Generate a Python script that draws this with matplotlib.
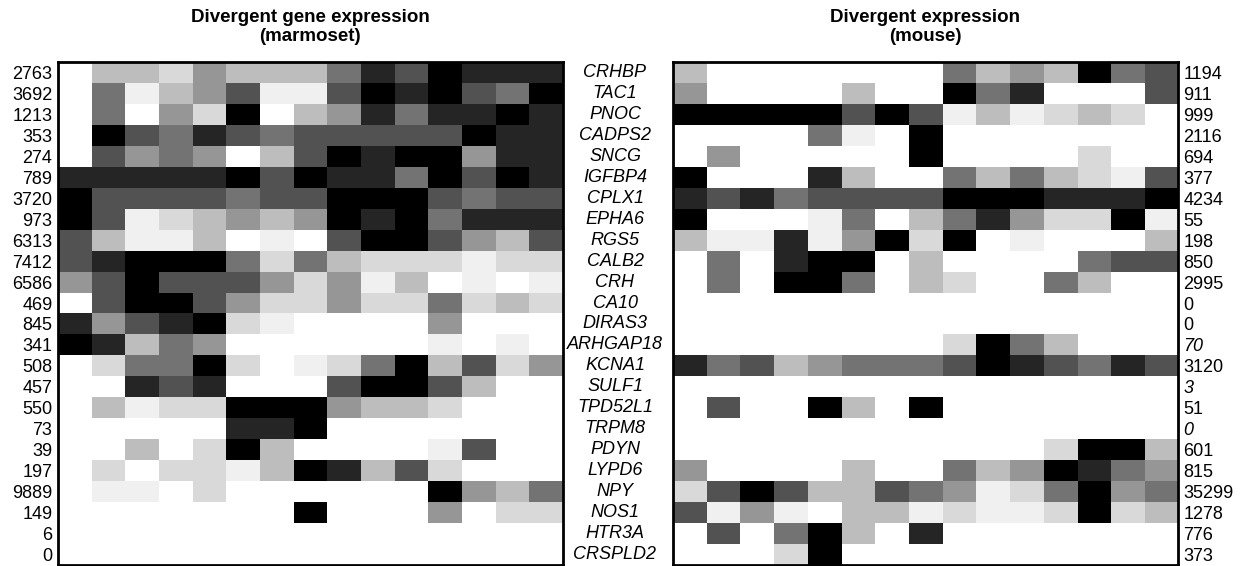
import matplotlib
matplotlib.use('Agg')
import matplotlib.pyplot as plt
import numpy as np
from matplotlib.colors import ListedColormap
from matplotlib import transforms

plt.rcParams['font.family'] = ['Liberation Sans', 'DejaVu Sans']

# genes, one per heatmap row
genes = ['CRHBP', 'TAC1', 'PNOC', 'CADPS2', 'SNCG', 'IGFBP4', 'CPLX1', 'EPHA6',
         'RGS5', 'CALB2', 'CRH', 'CA10', 'DIRAS3', 'ARHGAP18', 'KCNA1', 'SULF1',
         'TPD52L1', 'TRPM8', 'PDYN', 'LYPD6', 'NPY', 'NOS1', 'HTR3A', 'CRSPLD2']

# max expression per gene
marmoset_max = ['2763', '3692', '1213', '353', '274', '789', '3720', '973', '6313',
                '7412', '6586', '469', '845', '341', '508', '457', '550', '73', '39',
                '197', '9889', '149', '6', '0']
mouse_max = ['1194', '911', '999', '2116', '694', '377', '4234', '55', '198', '850',
             '2995', '0', '0', '70', '3120', '3', '51', '0', '601', '815', '35299',
             '1278', '776', '373']
mouse_italic = [13, 15, 17]

# binned expression level per cluster, 0 (none) .. 8 (max)
marmoset = [
    [0, 3, 3, 2, 4, 3, 3, 3, 5, 7, 6, 8, 7, 7, 7],
    [0, 5, 1, 3, 4, 6, 1, 1, 6, 8, 7, 8, 6, 5, 8],
    [0, 5, 0, 4, 2, 8, 0, 3, 4, 7, 5, 7, 7, 8, 7],
    [0, 8, 6, 5, 7, 6, 5, 6, 6, 6, 6, 6, 8, 7, 7],
    [0, 6, 4, 5, 4, 0, 3, 6, 8, 7, 8, 8, 4, 7, 7],
    [7, 7, 7, 7, 7, 8, 6, 8, 7, 7, 5, 8, 6, 8, 7],
    [8, 6, 6, 6, 6, 5, 6, 6, 8, 8, 8, 6, 5, 6, 6],
    [8, 6, 1, 2, 3, 4, 3, 4, 8, 7, 8, 5, 7, 7, 7],
    [6, 3, 1, 1, 3, 0, 1, 0, 6, 8, 8, 6, 4, 3, 6],
    [6, 7, 8, 8, 8, 5, 2, 5, 3, 2, 2, 2, 1, 2, 2],
    [4, 6, 8, 6, 6, 6, 4, 2, 4, 1, 3, 0, 1, 0, 1],
    [0, 6, 8, 8, 6, 4, 2, 2, 4, 2, 2, 5, 2, 3, 2],
    [7, 4, 6, 7, 8, 2, 1, 0, 0, 0, 0, 4, 0, 0, 0],
    [8, 7, 3, 5, 4, 0, 0, 0, 0, 0, 0, 1, 0, 1, 0],
    [0, 2, 5, 5, 8, 2, 0, 1, 2, 5, 8, 3, 6, 2, 4],
    [0, 0, 7, 6, 7, 0, 0, 0, 6, 8, 8, 6, 3, 0, 0],
    [0, 3, 1, 2, 2, 8, 8, 8, 4, 3, 3, 2, 0, 0, 0],
    [0, 0, 0, 0, 0, 7, 7, 8, 0, 0, 0, 0, 0, 0, 0],
    [0, 0, 3, 0, 2, 8, 3, 0, 0, 0, 0, 1, 6, 0, 0],
    [0, 2, 0, 2, 2, 1, 3, 8, 7, 3, 6, 2, 0, 0, 0],
    [0, 1, 1, 0, 2, 0, 0, 0, 0, 0, 0, 8, 4, 3, 5],
    [0, 0, 0, 0, 0, 0, 0, 8, 0, 0, 0, 4, 0, 2, 2],
    [0, 0, 0, 0, 0, 0, 0, 0, 0, 0, 0, 0, 0, 0, 0],
    [0, 0, 0, 0, 0, 0, 0, 0, 0, 0, 0, 0, 0, 0, 0],
]
mouse = [
    [3, 0, 0, 0, 0, 0, 0, 0, 5, 3, 4, 3, 8, 5, 6],
    [4, 0, 0, 0, 0, 3, 0, 0, 8, 5, 7, 0, 0, 0, 6],
    [8, 8, 8, 8, 8, 6, 8, 6, 1, 3, 1, 2, 3, 2, 0],
    [0, 0, 0, 0, 5, 1, 0, 8, 0, 0, 0, 0, 0, 0, 0],
    [0, 4, 0, 0, 0, 0, 0, 8, 0, 0, 0, 0, 2, 0, 0],
    [8, 0, 0, 0, 7, 3, 0, 0, 5, 3, 5, 3, 2, 1, 6],
    [7, 6, 7, 5, 6, 6, 6, 6, 8, 8, 8, 7, 7, 7, 8],
    [8, 0, 0, 0, 1, 5, 0, 3, 5, 7, 4, 2, 2, 8, 1],
    [3, 1, 1, 7, 1, 4, 8, 2, 8, 0, 1, 0, 0, 0, 3],
    [0, 5, 0, 7, 8, 8, 0, 3, 0, 0, 0, 0, 5, 6, 6],
    [0, 5, 0, 8, 8, 5, 0, 3, 2, 0, 0, 5, 3, 0, 0],
    [0, 0, 0, 0, 0, 0, 0, 0, 0, 0, 0, 0, 0, 0, 0],
    [0, 0, 0, 0, 0, 0, 0, 0, 0, 0, 0, 0, 0, 0, 0],
    [0, 0, 0, 0, 0, 0, 0, 0, 2, 8, 5, 3, 0, 0, 0],
    [7, 5, 6, 3, 4, 5, 5, 5, 6, 8, 7, 6, 5, 7, 6],
    [0, 0, 0, 0, 0, 0, 0, 0, 0, 0, 0, 0, 0, 0, 0],
    [0, 6, 0, 0, 8, 3, 0, 8, 0, 0, 0, 0, 0, 0, 0],
    [0, 0, 0, 0, 0, 0, 0, 0, 0, 0, 0, 0, 0, 0, 0],
    [0, 0, 0, 0, 0, 0, 0, 0, 0, 0, 0, 2, 8, 8, 3],
    [4, 0, 0, 0, 0, 3, 0, 0, 5, 3, 4, 8, 7, 5, 4],
    [2, 6, 8, 6, 3, 3, 6, 5, 4, 1, 2, 5, 8, 4, 5],
    [6, 1, 4, 1, 0, 3, 3, 1, 2, 1, 1, 2, 8, 2, 3],
    [0, 6, 0, 5, 8, 3, 0, 7, 0, 0, 0, 0, 0, 0, 0],
    [0, 0, 0, 2, 8, 0, 0, 0, 0, 0, 0, 0, 0, 0, 0],
]

greys = ListedColormap(['#ffffff', '#f0f0f0', '#d9d9d9', '#bdbdbd', '#969696',
                        '#737373', '#525252', '#252525', '#000000'])

W, H = 1251, 566
fig = plt.figure(figsize=(W / 100, H / 100), dpi=100)
ax1 = fig.add_axes([58 / W, 1 / H, 505 / W, 503 / H])
ax2 = fig.add_axes([673 / W, 1 / H, 505 / W, 503 / H])

rows = np.arange(len(genes))
fs = 13

for ax, data in [(ax1, marmoset), (ax2, mouse)]:
    ax.imshow(np.array(data), cmap=greys, vmin=-0.5, vmax=8.5, aspect='auto',
              interpolation='nearest')
    ax.set_xticks([])
    ax.set_yticks(rows)
    ax.tick_params(length=0, labelsize=fs)
    for s in ax.spines.values():
        s.set_linewidth(2)

ax1.set_yticklabels(marmoset_max)
ax1.tick_params(axis='y', pad=4)

ax2.yaxis.tick_right()
ax2.set_yticklabels(mouse_max)
ax2.tick_params(axis='y', pad=4)
for i in mouse_italic:
    ax2.get_yticklabels()[i].set_fontstyle('italic')

# gene names between the two panels
trans = transforms.blended_transform_factory(fig.transFigure, ax2.transData)
for i, g in enumerate(genes):
    fig.text(615 / W, i, g, transform=trans, ha='center', va='center',
             fontsize=fs, fontstyle='italic')

fig.text(310 / W, 1 - 27 / H, 'Divergent gene expression\n(marmoset)', ha='center',
         va='center', fontsize=13.5, fontweight='bold', linespacing=1.2)
fig.text(925 / W, 1 - 27 / H, 'Divergent expression\n(mouse)', ha='center',
         va='center', fontsize=13.5, fontweight='bold', linespacing=1.2)

fig.savefig('out.png', dpi=100)
